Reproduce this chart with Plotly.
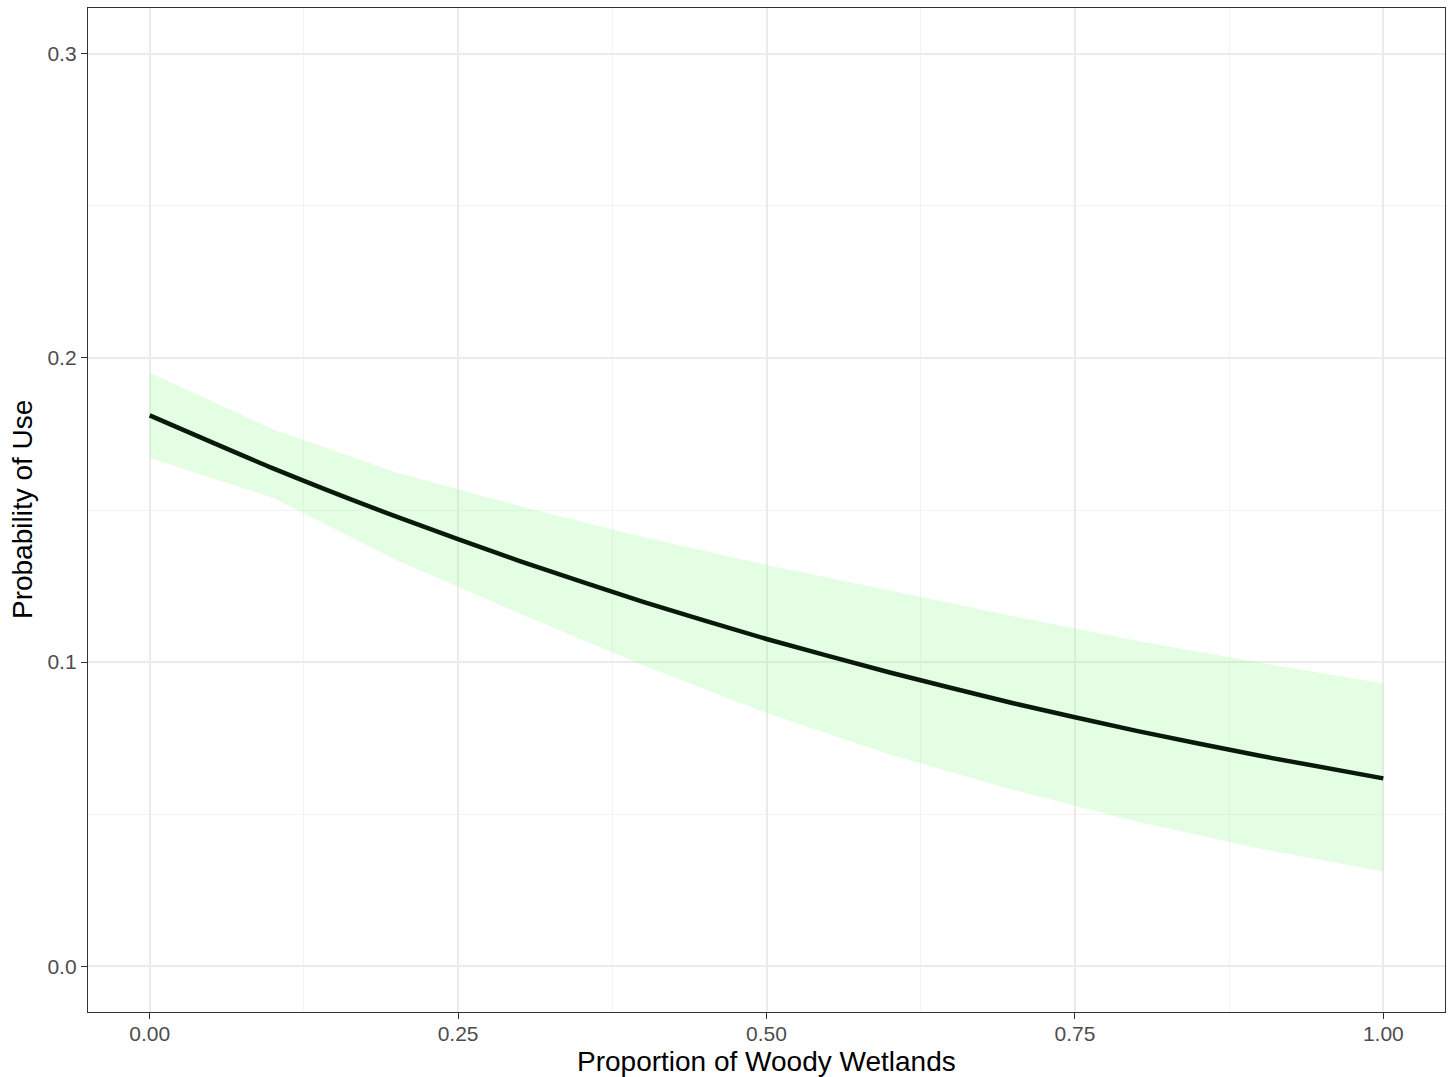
import plotly.graph_objects as go

# Data
woody = [0.0, 0.1, 0.2, 0.3, 0.4, 0.5, 0.6, 0.7, 0.8, 0.9, 1.0]
prob_fit = [0.1811, 0.1637, 0.1478, 0.1332, 0.1198, 0.1076, 0.0966, 0.0865, 0.0774, 0.0692, 0.0618]
prob_upper = [0.1951, 0.1765, 0.1623, 0.1513, 0.1411, 0.1319, 0.1235, 0.1151, 0.1070, 0.0998, 0.0930]
prob_lower = [0.1672, 0.1540, 0.1336, 0.1160, 0.0990, 0.0833, 0.0696, 0.0580, 0.0476, 0.0387, 0.0312]

x_ticks = [0.0, 0.25, 0.5, 0.75, 1.0]
x_ticklabels = ["0.00", "0.25", "0.50", "0.75", "1.00"]
y_ticks = [0.0, 0.1, 0.2, 0.3]
y_ticklabels = ["0.0", "0.1", "0.2", "0.3"]

FONT = "Arial, Liberation Sans, sans-serif"

fig = go.Figure()
fig.add_trace(go.Scatter(
    x=woody + woody[::-1],
    y=prob_upper + prob_lower[::-1],
    fill="toself",
    fillcolor="rgba(152,251,152,0.27)",
    line=dict(width=0),
    mode="lines",
    hoverinfo="skip",
    showlegend=False,
))
fig.add_trace(go.Scatter(
    x=woody, y=prob_fit,
    mode="lines",
    line=dict(color="#0a1a0a", width=4.5, shape="spline", smoothing=0.6),
    showlegend=False,
))

axis_common = dict(
    showline=True, mirror=True, linecolor="#333333", linewidth=1.3,
    ticks="outside", ticklen=6, tickwidth=1.3, tickcolor="#333333",
    showgrid=True, gridcolor="#ebebeb", gridwidth=2,
    zeroline=False,
    tickfont=dict(family=FONT, size=21, color="#4d4d4d"),
)

fig.update_xaxes(
    range=[-0.05, 1.05],
    tickmode="array", tickvals=x_ticks, ticktext=x_ticklabels,
    ticklabelstandoff=-3,
    minor=dict(tick0=0.125, dtick=0.25, showgrid=True, gridcolor="#f3f3f3", gridwidth=1, ticklen=0),
    **axis_common,
)
fig.update_yaxes(
    range=[-0.015, 0.315],
    tickmode="array", tickvals=y_ticks, ticktext=y_ticklabels,
    minor=dict(tick0=0.05, dtick=0.1, showgrid=True, gridcolor="#f3f3f3", gridwidth=1, ticklen=0),
    **axis_common,
)

fig.update_layout(
    width=1452, height=1077,
    margin=dict(l=88, r=7, t=8, b=65),
    plot_bgcolor="white", paper_bgcolor="white",
    font=dict(family=FONT),
    annotations=[
        dict(text="Proportion of Woody Wetlands", xref="paper", yref="paper",
             x=0.5, y=-0.0498, xanchor="center", yanchor="middle", showarrow=False,
             font=dict(family=FONT, size=28, color="black")),
        dict(text="Probability of Use", xref="paper", yref="paper",
             x=-0.0486, y=0.5, xanchor="center", yanchor="middle", showarrow=False,
             textangle=-90, font=dict(family=FONT, size=28, color="black")),
    ],
)

fig.write_html(
    "out.html",
    config={"displayModeBar": False},
    post_script="document.body.style.margin='0px'; document.body.style.overflow='hidden';",
)
